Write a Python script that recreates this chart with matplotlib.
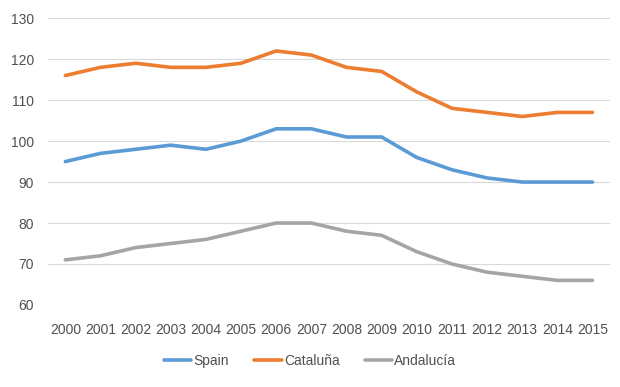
import numpy as np
import matplotlib.pyplot as plt

plt.rcParams.update({
    "font.family": "Liberation Sans",
    "font.size": 10,
})

years = [str(y) for y in range(2000, 2016)]
spain = [95, 97, 98, 99, 98, 100, 103, 103, 101, 101, 96, 93, 91, 90, 90, 90]
cataluna = [116, 118, 119, 118, 118, 119, 122, 121, 118, 117, 112, 108, 107, 106, 107, 107]
andalucia = [71, 72, 74, 75, 76, 78, 80, 80, 78, 77, 73, 70, 68, 67, 66, 66]

fig = plt.figure(figsize=(6.2, 3.87), dpi=100)
ax = fig.add_axes([0.077, 0.212, 0.907, 0.741])

x = np.arange(len(years))
ax.plot(x, spain, color="#5B9BD5", lw=2.6, label="Spain", solid_capstyle="round")
ax.plot(x, cataluna, color="#ED7D31", lw=2.6, label="Cataluña", solid_capstyle="round")
ax.plot(x, andalucia, color="#A5A5A5", lw=2.6, label="Andalucía", solid_capstyle="round")

ax.set_xlim(-0.5, len(years) - 0.5)
ax.set_ylim(60, 130)
ax.set_yticks(range(60, 131, 10))
ax.set_xticks(x)
ax.set_xticklabels(years)
ax.grid(axis="y", color="#D9D9D9", lw=0.8)
ax.set_axisbelow(True)
for s in ax.spines.values():
    s.set_visible(False)
ax.tick_params(length=0, colors="#505050")
ax.tick_params(axis="x", pad=13)
ax.tick_params(axis="y", pad=10)

fig.legend(loc="center", bbox_to_anchor=(0.5, 0.068), ncol=3, frameon=False,
           handlelength=2.0, columnspacing=1.8, handletextpad=0.15,
           labelcolor="#505050")

fig.savefig("out.png", dpi=100)
